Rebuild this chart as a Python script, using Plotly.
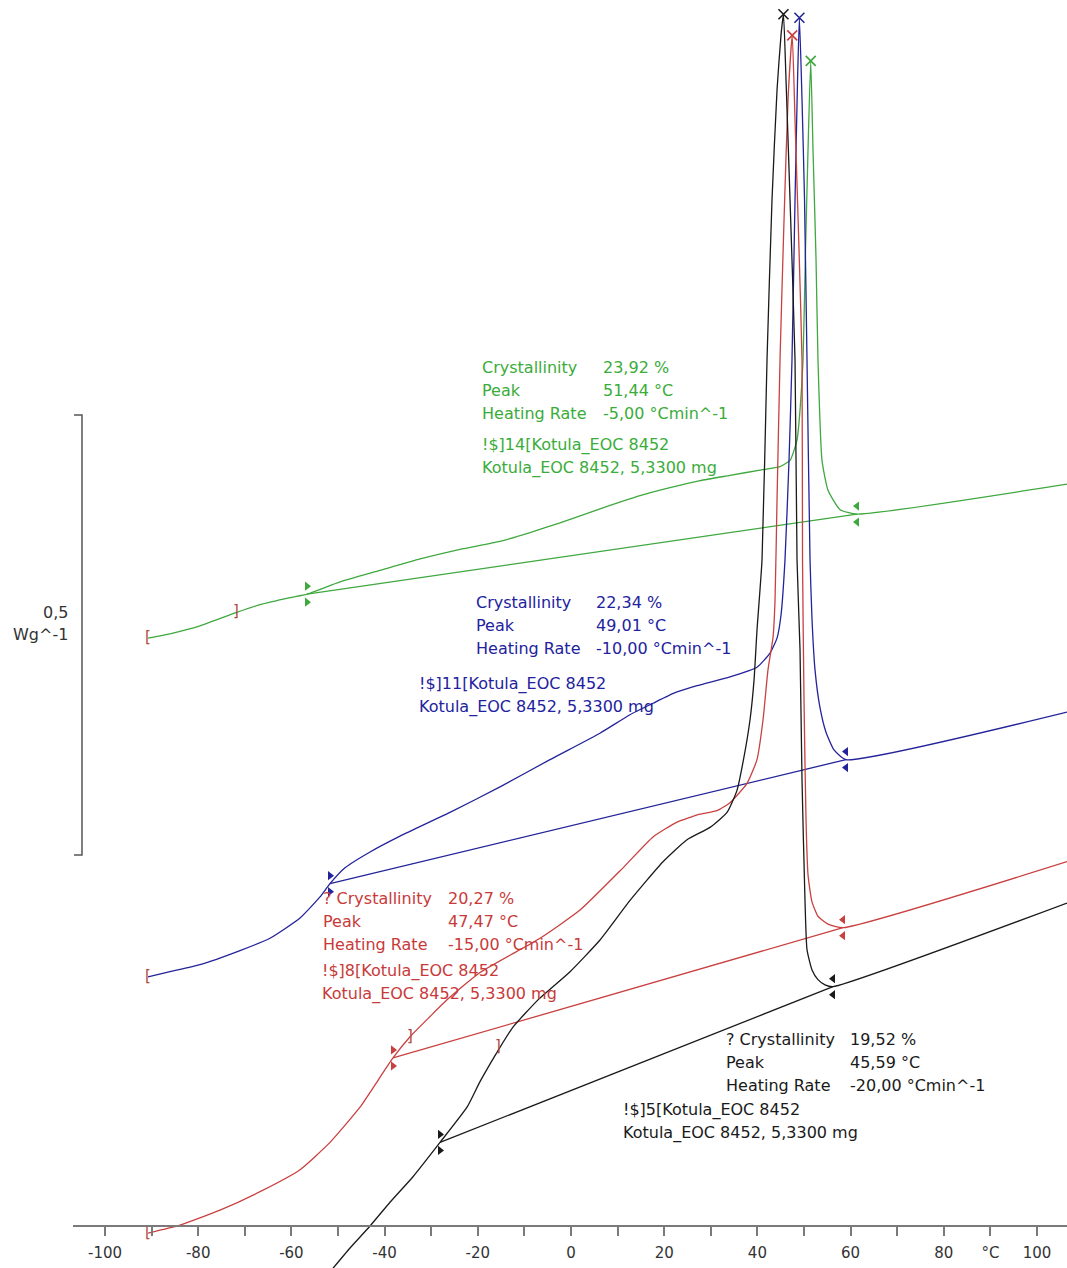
import numpy as np
import plotly.graph_objects as go

# ---------------- data (temperature in °C, heat flow in W/g, stacked offsets) ----------------
green_T = [-90.77, -86.05, -79.61, -71.89, -66.74, -60.30, -56.65, -49.57, -40.99, -32.40, -23.82, -15.24,
           -8.80, -2.36, 6.22, 14.81, 21.24, 27.68, 34.12, 40.56, 44.85, 47.00, 48.50, 49.14, 49.79, 50.32,
           50.86, 51.44, 51.93, 52.58, 53.00, 53.86, 55.15, 57.73, 61.37, 106.44]
green_HF = [0.668, 0.673, 0.682, 0.697, 0.706, 0.714, 0.718, 0.732, 0.745, 0.758, 0.769, 0.778,
            0.788, 0.799, 0.815, 0.830, 0.839, 0.847, 0.853, 0.859, 0.863, 0.870, 0.893, 0.927, 0.984, 1.109,
            1.223, 1.324, 1.223, 1.098, 0.984, 0.870, 0.836, 0.814, 0.809, 0.843]
green_base_T = [-56.65, 61.37]
green_base_HF = [0.718, 0.809]

blue_T = [-90.77, -86.05, -79.61, -71.03, -64.59, -58.15, -53.86, -51.72, -48.50, -43.13, -36.70, -25.97,
          -15.24, -4.51, 6.22, 12.66, 17.60, 22.32, 27.04, 34.12, 39.91, 42.70, 44.21, 45.06, 45.92, 46.78,
          47.42, 48.07, 48.61, 49.01, 49.57, 50.11, 50.64, 51.29, 51.72, 52.36, 53.43, 54.72, 56.44, 59.01,
          106.44]
blue_HF = [0.283, 0.289, 0.297, 0.313, 0.327, 0.350, 0.374, 0.389, 0.407, 0.425, 0.443, 0.470,
           0.499, 0.530, 0.560, 0.581, 0.594, 0.606, 0.614, 0.624, 0.635, 0.651, 0.668, 0.694, 0.757, 0.870,
           0.984, 1.166, 1.302, 1.373, 1.280, 1.166, 0.984, 0.757, 0.689, 0.632, 0.589, 0.561, 0.541, 0.530,
           0.584]
blue_base_T = [-51.72, 59.01]
blue_base_HF = [0.389, 0.530]

red_T = [-90.77, -83.91, -75.32, -66.74, -58.15, -51.72, -45.28, -40.99, -38.20, -34.55, -30.26, -26.61,
         -19.53, -6.65, 1.93, 11.16, 17.60, 22.75, 27.68, 31.33, 34.12, 37.77, 39.91, 41.20, 42.27, 43.35,
         43.78, 44.21, 44.85, 45.71, 46.57, 47.47, 48.07, 48.93, 49.57, 49.68, 50.00, 50.43, 50.86, 51.72,
         53.00, 55.15, 58.37, 106.44]
red_HF = [-0.008, 0.001, 0.018, 0.039, 0.064, 0.095, 0.135, 0.169, 0.191, 0.215, 0.238, 0.257,
          0.288, 0.327, 0.359, 0.407, 0.442, 0.459, 0.468, 0.472, 0.481, 0.503, 0.530, 0.575, 0.632, 0.669,
          0.711, 0.825, 0.984, 1.143, 1.280, 1.353, 1.257, 1.109, 0.984, 0.757, 0.598, 0.461, 0.399, 0.368,
          0.352, 0.343, 0.339, 0.414]
red_base_T = [-38.20, 58.37]
red_base_HF = [0.191, 0.339]

black_T = [-51.07, -47.42, -43.13, -38.84, -33.91, -28.11, -22.32, -19.53, -15.24, -12.45, -7.08, -0.21,
           6.22, 12.66, 19.74, 24.89, 29.83, 33.48, 35.62, 36.91, 38.41, 39.27, 39.91, 40.99, 42.06, 43.13,
           44.21, 45.06, 45.59, 46.14, 47.00, 48.07, 48.50, 49.14, 49.57, 50.21, 50.64, 51.72, 53.00, 54.51,
           56.22, 106.44]
black_HF = [-0.048, -0.025, 0.000, 0.027, 0.056, 0.095, 0.135, 0.164, 0.203, 0.226, 0.257, 0.289,
            0.325, 0.370, 0.414, 0.439, 0.453, 0.470, 0.495, 0.527, 0.575, 0.620, 0.677, 0.757, 0.984, 1.166,
            1.291, 1.353, 1.377, 1.302, 1.166, 0.984, 0.757, 0.655, 0.507, 0.370, 0.314, 0.291, 0.280, 0.274,
            0.272, 0.367]
black_base_T = [-28.11, 56.22]
black_base_HF = [0.095, 0.272]

crystallinity = [23.92, 22.34, 20.27, 19.52]
peak_temps = [51.44, 49.01, 47.47, 45.59]
heating_rates = [-5.00, -10.00, -15.00, -20.00]
run_ids = [14, 11, 8, 5]
crys_prefix = ["", "", "? ", "? "]
sample_name = "Kotula_EOC 8452"
sample_mass = "5,3300 mg"

# integration-limit brackets
bracket_T = [-90.77, -71.89, -90.77, -90.77, -34.55, -15.67]
bracket_HF = [0.668, 0.697, 0.283, -0.008, 0.215, 0.203]
bracket_txt = ["[", "]", "[", "[", "]", "]"]

x_ticks = list(range(-100, 101, 10))
x_ticktext = ["-100", "", "-80", "", "-60", "", "-40", "", "-20", "", "0", "", "20", "", "40", "", "60", "",
              "80", "°C", "100"]

# ---------------- styling ----------------
FONT = "DejaVu Sans"
line_cols = ["#3fa83f", "#23239a", "#c94040", "#1a1a1a"]
text_cols = ["#3aac3a", "#22229e", "#c83a3a", "#1a1a1a"]
BRACKET = "#b04a3e"
PX_PER_HF = 880.0  # layout: pixels per W/g
PX_PER_T = 4.66    # layout: pixels per °C
ROW = 23 / PX_PER_HF

def fmt(v):
    return f"{v:.2f}".replace(".", ",")

series = [
    (green_T, green_HF, green_base_T, green_base_HF),
    (blue_T, blue_HF, blue_base_T, blue_base_HF),
    (red_T, red_HF, red_base_T, red_base_HF),
    (black_T, black_HF, black_base_T, black_base_HF),
]

fig = go.Figure()
off = 8 / PX_PER_HF
for i, (T, HF, bT, bHF) in enumerate(series):
    c = line_cols[i]
    fig.add_trace(go.Scatter(x=T, y=HF, mode="lines", line=dict(color=c, width=1.3, shape="spline", smoothing=0.5),
                             hoverinfo="skip", showlegend=False))
    fig.add_trace(go.Scatter(x=bT, y=bHF, mode="lines", line=dict(color=c, width=1.3),
                             hoverinfo="skip", showlegend=False))
    fig.add_trace(go.Scatter(x=[bT[0], bT[0]], y=[bHF[0] + off, bHF[0] - off], mode="markers",
                             marker=dict(symbol="triangle-right", size=8, color=c),
                             hoverinfo="skip", showlegend=False))
    fig.add_trace(go.Scatter(x=[bT[1], bT[1]], y=[bHF[1] + off, bHF[1] - off], mode="markers",
                             marker=dict(symbol="triangle-left", size=8, color=c),
                             hoverinfo="skip", showlegend=False))
    pk = peak_temps[i]
    fig.add_trace(go.Scatter(x=[pk], y=[float(np.interp(pk, T, HF))], mode="markers",
                             marker=dict(symbol="x-thin", size=10, line=dict(color=c, width=1.6)),
                             hoverinfo="skip", showlegend=False))

fig.add_trace(go.Scatter(x=bracket_T, y=bracket_HF, mode="text", text=bracket_txt,
                         textfont=dict(family=FONT, size=15, color=BRACKET), textposition="middle center",
                         hoverinfo="skip", showlegend=False))

# text blocks (label column T, value column T, first row HF, id column T, id row HF)
blocks = [
    (-19.53, 6.44, 0.976, -19.53, 0.8875),
    (-20.82, 4.94, 0.708, -33.05, 0.616),
    (-53.65, -26.82, 0.3727, -53.86, 0.290),
    (32.83, 59.44, 0.2114, 10.73, 0.1318),
]
ann = []
for i, (lx, vx, y0, ix, iy) in enumerate(blocks):
    col = text_cols[i]
    labels = [crys_prefix[i] + "Crystallinity", "Peak", "Heating Rate"]
    values = [fmt(crystallinity[i]) + " %", fmt(peak_temps[i]) + " °C", fmt(heating_rates[i]) + " °Cmin^-1"]
    for r in range(3):
        for x, t in ((lx, labels[r]), (vx, values[r])):
            ann.append(dict(x=x, y=y0 - r * ROW, xref="x", yref="y", text=t, showarrow=False,
                            xanchor="left", yanchor="middle", font=dict(family=FONT, size=16, color=col)))
    for r, t in enumerate([f"!$]{run_ids[i]}[{sample_name}", f"{sample_name}, {sample_mass}"]):
        ann.append(dict(x=ix, y=iy - r * ROW, xref="x", yref="y", text=t, showarrow=False,
                        xanchor="left", yanchor="middle", font=dict(family=FONT, size=16, color=col)))

# page body margin is removed by post_script, so the figure starts at (0, 0)
W, H = 1067, 1268
ML = 73
plot_w = W - ML
X_MIN = -106.87
X_MAX = X_MIN + plot_w / PX_PER_T
Y_MIN = -(1268 - 1226) / PX_PER_HF
Y_MAX = 1226 / PX_PER_HF

# scale bar label
for t, yy in (("0,5", 0.6977), ("Wg^-1", 0.6716)):
    ann.append(dict(x=-3 / plot_w, y=yy, xref="paper", yref="y", text=t, showarrow=False,
                    xanchor="right", yanchor="middle", font=dict(family=FONT, size=16, color="#333333")))

fig.update_layout(
    width=W, height=H,
    margin=dict(l=ML, r=0, t=0, b=0),
    paper_bgcolor="white", plot_bgcolor="white",
    annotations=ann,
    shapes=[dict(type="path", xref="paper", yref="y",
                 path=f"M {1/plot_w:.5f},0.9216 L {9/plot_w:.5f},0.9216 L {9/plot_w:.5f},0.4216 L {1/plot_w:.5f},0.4216",
                 line=dict(color="#555555", width=1.5))],
    xaxis=dict(range=[X_MIN, X_MAX], anchor="free", position=(1268 - 1226) / H, side="bottom",
               showline=True, linecolor="#7a7a7a", linewidth=2,
               ticks="outside", ticklen=9, tickwidth=1.5, tickcolor="#7a7a7a",
               tickvals=x_ticks, ticktext=x_ticktext, ticklabelstandoff=4,
               tickfont=dict(family=FONT, size=15, color="#333333"),
               showgrid=False, zeroline=False, fixedrange=True),
    yaxis=dict(range=[Y_MIN, Y_MAX], visible=False, fixedrange=True),
    font=dict(family=FONT),
)

fig.write_html("out.html", config=dict(displayModeBar=False),
               post_script="document.body.style.margin='0';document.body.style.overflow='hidden';")
